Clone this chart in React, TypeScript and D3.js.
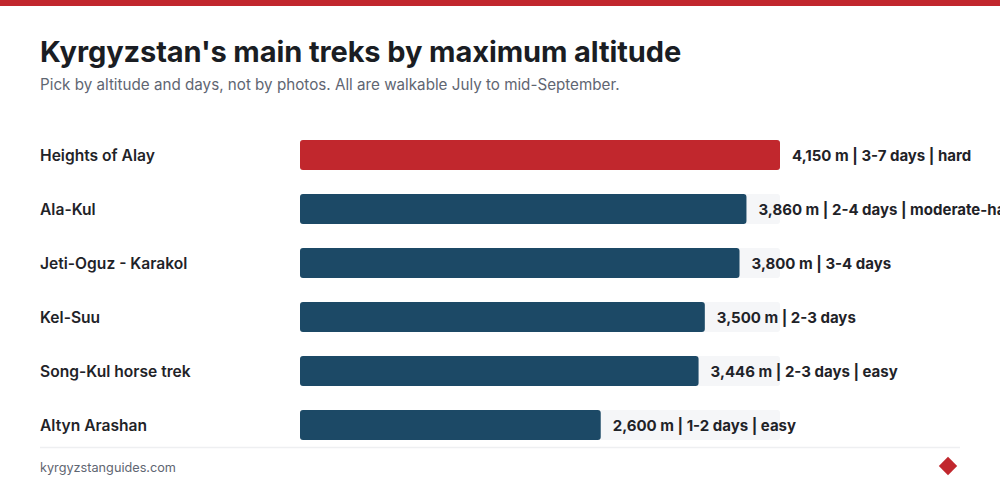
import * as d3 from 'd3';

const treks = [
  'Heights of Alay',
  'Ala-Kul',
  'Jeti-Oguz - Karakol',
  'Kel-Suu',
  'Song-Kul horse trek',
  'Altyn Arashan',
];
const altitudes = [4150, 3860, 3800, 3500, 3446, 2600];
const details = [
  '3-7 days | hard',
  '2-4 days | moderate-hard',
  '3-4 days',
  '2-3 days',
  '2-3 days | easy',
  '1-2 days | easy',
];

const W = 1000;
const H = 494;
const RED = '#c1272d';
const BLUE = '#1c4966';
const FONT = 'Inter, "Noto Sans", sans-serif';

export default function App() {
  const x = d3.scaleLinear().domain([0, d3.max(altitudes) as number]).range([300, 780]);
  const y = d3.scaleBand().domain(treks).range([128, 452]).paddingInner(0.445).paddingOuter(0.22);
  const fmt = d3.format(',');

  return (
    <svg
      width={W}
      height={H}
      style={{ position: 'absolute', left: 0, top: 0, background: '#fff' }}
      fontFamily={FONT}
    >
      <rect x={0} y={0} width={W} height={6} fill={RED} />
      <text x={40} y={62} fontSize={29} fontWeight={700} fill="#1a1d23" letterSpacing={-0.1}>
        Kyrgyzstan's main treks by maximum altitude
      </text>
      <text x={40} y={90} fontSize={15.2} fill="#5f6672">
        Pick by altitude and days, not by photos. All are walkable July to mid-September.
      </text>

      {treks.map((t, i) => {
        const by = y(t) as number;
        const bh = y.bandwidth();
        return (
          <g key={t}>
            <text x={40} y={by + bh / 2} dy="0.38em" fontSize={15.6} fontWeight={600} fill="#1f2328">
              {t}
            </text>
            <rect x={x(0)} y={by} width={x.range()[1] - x(0)} height={bh} rx={3} fill="#f5f6f8" />
            <rect
              x={x(0)}
              y={by}
              width={x(altitudes[i]) - x(0)}
              height={bh}
              rx={3}
              fill={i === 0 ? RED : BLUE}
            />
            <text
              x={x(altitudes[i]) + 12}
              y={by + bh / 2}
              dy="0.38em"
              fontSize={15}
              fontWeight={700}
              fill="#1f2328"
            >
              {`${fmt(altitudes[i])} m | ${details[i]}`}
            </text>
          </g>
        );
      })}

      <line x1={40} x2={960} y1={447.5} y2={447.5} stroke="#eeeff1" strokeWidth={1.5} />
      <text x={40} y={472} fontSize={12.7} fill="#5f6672">
        kyrgyzstanguides.com
      </text>
      <rect
        x={-6.5}
        y={-6.5}
        width={13}
        height={13}
        fill={RED}
        transform={`translate(948,466) rotate(45)`}
      />
    </svg>
  );
}
